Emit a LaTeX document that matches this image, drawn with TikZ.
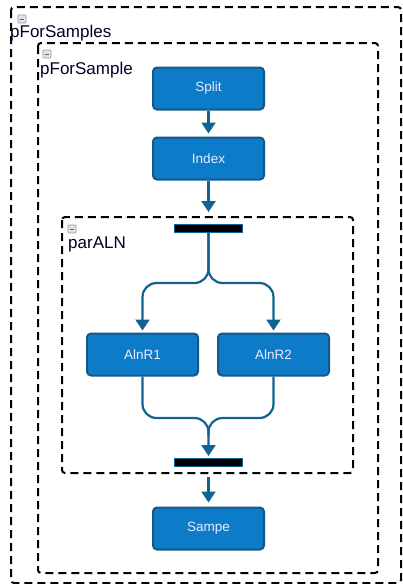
\documentclass[tikz,border=0pt]{standalone}
\usepackage{fontspec}
\setmainfont{Liberation Sans}
\usetikzlibrary{arrows.meta}
\definecolor{stepfill}{RGB}{12,124,200}
\definecolor{stepedge}{RGB}{20,88,138}
\definecolor{flow}{RGB}{18,98,146}
\definecolor{iconedge}{RGB}{150,150,150}
\definecolor{iconfill}{RGB}{225,228,232}
\tikzset{
  stepbox/.style={draw=stepedge, fill=stepfill, line width=2pt, rounded corners=4pt,
    minimum width=111pt, minimum height=42pt, inner sep=0pt,
    text=white!92!blue, font=\fontsize{13.5}{16}\selectfont},
  syncbar/.style={draw=flow, fill=black, line width=1pt, minimum width=68pt,
    minimum height=8pt, inner sep=0pt},
  group/.style={draw=black, line width=2pt, dash pattern=on 8pt off 5pt, rounded corners=3pt},
  grouplabel/.style={anchor=base west, inner sep=0pt, text=black!85!blue,
    font=\fontsize{17}{20}\selectfont},
  collapse/.style={draw=iconedge, fill=iconfill, line width=0.6pt, minimum size=8pt,
    inner sep=0pt, rounded corners=0.8pt,
    path picture={\draw[black!60, line width=1pt] ([xshift=2pt]path picture bounding box.west) -- ([xshift=-2pt]path picture bounding box.east);}},
  flowline/.style={draw=flow, line width=2.2pt},
  flowarrow/.style={flowline, -{Triangle[width=14pt,length=11pt]}},
}
\begin{document}
\begin{tikzpicture}[x=1pt, y=-1pt]
\useasboundingbox (0,0) rectangle (402,584);

% nested groups
\draw[group] (11,7) rectangle (401,583);
\draw[group] (38,43) rectangle (378,573);
\draw[group] (62,217) rectangle (353,473);

% group headers
\node[collapse] (iconA) at (22,19) {};
\node[grouplabel] (lblA) at (10,37) {pForSamples};
\node[collapse] (iconB) at (47,54) {};
\node[grouplabel] (lblB) at (40,74) {pForSample};
\node[collapse] (iconC) at (72,229) {};
\node[grouplabel] (lblC) at (68,248) {parALN};

% steps
\node[stepbox] (split) at (208.5,88.5) {Split};
\node[stepbox] (index) at (208.5,158.5) {Index};
\node[syncbar] (fork) at (208.5,228.5) {};
\node[stepbox] (aln1) at (142.5,354.5) {AlnR1};
\node[stepbox] (aln2) at (273.5,354.5) {AlnR2};
\node[syncbar] (join) at (208.5,462.5) {};
\node[stepbox] (sampe) at (208.5,528.5) {Sampe};

% connector waypoints
\coordinate (forkin) at (208.5,212);
\coordinate (splitpt) at (208.5,283);
\coordinate (mergept) at (208.5,418);
\coordinate (mergelow) at (208.5,436);
\coordinate (joinin) at (208.5,456);
\coordinate (joinout) at (208.5,477);

% connectors
\draw[flowarrow, shorten >=3pt] (split) -- (index);
\draw[flowarrow] (index.south) -- (forkin);
\draw[flowarrow, rounded corners=14pt, shorten >=2pt] (fork.south) -- (splitpt) -| (aln1.north);
\draw[flowarrow, rounded corners=14pt, shorten >=2pt] (fork.south) -- (splitpt) -| (aln2.north);
\draw[flowarrow, rounded corners=14pt] (aln1.south) |- (mergept) -- (joinin);
\draw[flowline, rounded corners=14pt] (aln2.south) |- (mergept) -- (mergelow);
\draw[flowarrow, shorten >=4pt] (joinout) -- (sampe.north);
\end{tikzpicture}
\end{document}
